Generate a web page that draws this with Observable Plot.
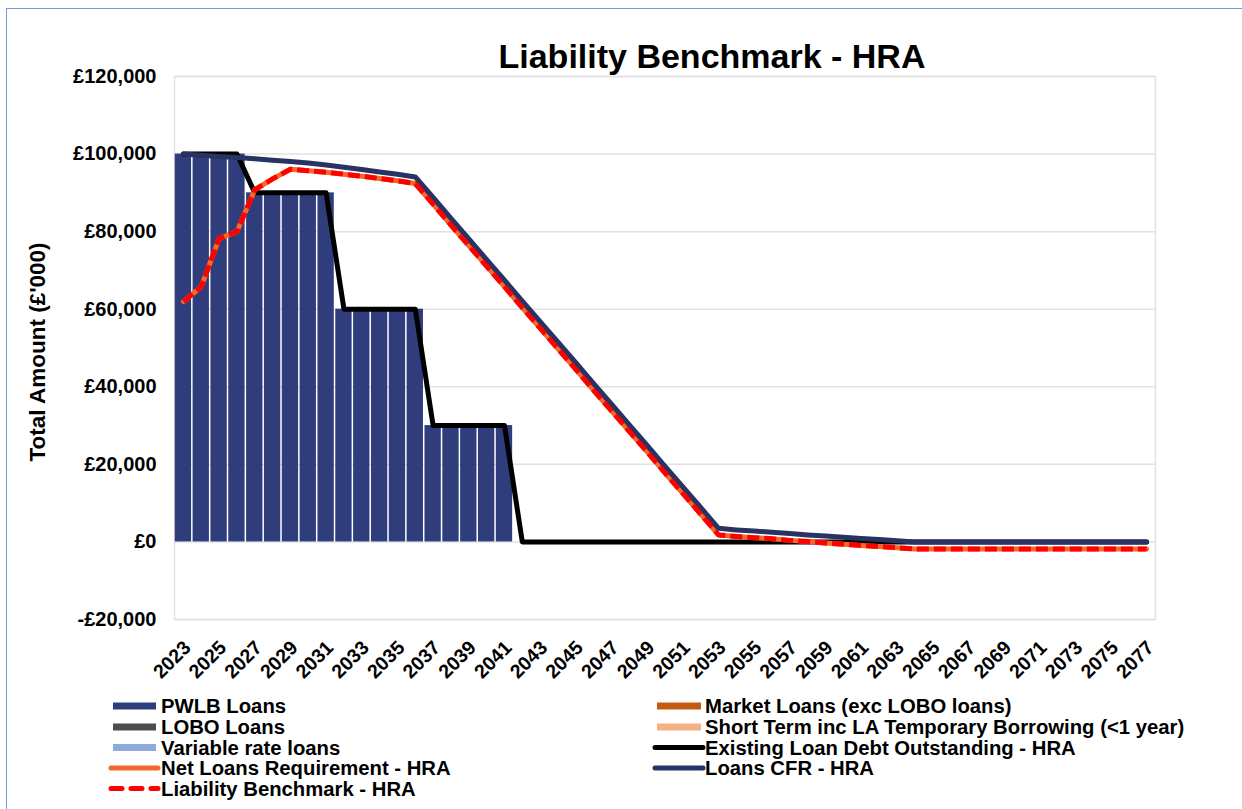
<!DOCTYPE html>
<html><head><meta charset="utf-8">
<script src="https://cdn.jsdelivr.net/npm/d3@7"></script>
<script src="https://cdn.jsdelivr.net/npm/@observablehq/plot@0.6"></script>
<style>
body{margin:0;background:#fff;}
#wrap{position:relative;width:1242px;height:809px;overflow:hidden;font-family:"Liberation Sans",Arial,sans-serif;}
#wrap svg{position:absolute;left:0;top:0;}
#border{position:absolute;left:6px;top:8px;width:1400px;height:1000px;border-top:1px solid #6E9AD6;border-left:1px solid #6E9AD6;}
</style>
</head><body>
<div id="wrap"><div id="border"></div></div>
<script>
const years = [2023,2024,2025,2026,2027,2028,2029,2030,2031,2032,2033,2034,2035,2036,2037,2038,2039,2040,2041,2042,
  2043,2044,2045,2046,2047,2048,2049,2050,2051,2052,2053,2054,2055,2056,2057,2058,2059,2060,2061,2062,
  2063,2064,2065,2066,2067,2068,2069,2070,2071,2072,2073,2074,2075,2076,2077];
const xTickYears = [2023,2025,2027,2029,2031,2033,2035,2037,2039,2041,2043,2045,2047,2049,2051,2053,2055,2057,2059,
  2061,2063,2065,2067,2069,2071,2073,2075,2077];
const yTicks = [-20000,0,20000,40000,60000,80000,100000,120000];

const pwlbLoans = [100000,100000,100000,100000,90000,90000,90000,90000,90000,60000,60000,60000,60000,60000,30000,30000,30000,30000,30000,0,
  0,0,0,0,0,0,0,0,0,0,0,0,0,0,0,0,0,0,0,0,
  0,0,0,0,0,0,0,0,0,0,0,0,0,0,0];
const marketLoans = [0,0,0,0,0,0,0,0,0,0,0,0,0,0,0,0,0,0,0,0,0,0,0,0,0,0,0,0,0,0,0,0,0,0,0,0,0,0,0,0,0,0,0,0,0,0,0,0,0,0,0,0,0,0,0];
const loboLoans = [0,0,0,0,0,0,0,0,0,0,0,0,0,0,0,0,0,0,0,0,0,0,0,0,0,0,0,0,0,0,0,0,0,0,0,0,0,0,0,0,0,0,0,0,0,0,0,0,0,0,0,0,0,0,0];
const shortTerm = [0,0,0,0,0,0,0,0,0,0,0,0,0,0,0,0,0,0,0,0,0,0,0,0,0,0,0,0,0,0,0,0,0,0,0,0,0,0,0,0,0,0,0,0,0,0,0,0,0,0,0,0,0,0,0];
const variableRate = [0,0,0,0,0,0,0,0,0,0,0,0,0,0,0,0,0,0,0,0,0,0,0,0,0,0,0,0,0,0,0,0,0,0,0,0,0,0,0,0,0,0,0,0,0,0,0,0,0,0,0,0,0,0,0];

const existingDebt = [100000,100000,100000,100000,90000,90000,90000,90000,90000,60000,60000,60000,60000,60000,30000,30000,30000,30000,30000,0,
  0,0,0,0,0,0,0,0,0,0,0,0,0,0,0,0,0,0,0,0,
  0,0,0,0,0,0,0,0,0,0,0,0,0,0,0];
const loansCFR = [100000,99700,99400,99100,98800,98400,98100,97700,97200,96600,96000,95400,94800,94100,
  88800,83400,78100,72800,67500,62100,56800,51500,46200,40800,35500,30200,24900,19500,14200,8900,3500,
  3100,2800,2500,2200,1800,1500,1200,900,600,300,0,
  0,0,0,0,0,0,0,0,0,0,0,0,0];
const netLoansReq = [62000,65800,78200,80000,90800,93600,96100,95700,95300,94800,94300,93700,93100,92400,
  87100,81700,76400,71100,65800,60400,55100,49800,44500,39100,33800,28500,23200,17800,12500,7200,1800,
  1400,1100,800,400,100,-300,-600,-900,-1200,-1500,-1800,
  -1800,-1800,-1800,-1800,-1800,-1800,-1800,-1800,-1800,-1800,-1800,-1800,-1800];
const liabilityBenchmark = [62000,65800,78200,80000,90800,93600,96100,95700,95300,94800,94300,93700,93100,92400,
  87100,81700,76400,71100,65800,60400,55100,49800,44500,39100,33800,28500,23200,17800,12500,7200,1800,
  1400,1100,800,400,100,-300,-600,-900,-1200,-1500,-1800,
  -1800,-1800,-1800,-1800,-1800,-1800,-1800,-1800,-1800,-1800,-1800,-1800,-1800];

const barSeries = [
  {name: "PWLB Loans", values: pwlbLoans, color: "#2F3D7C"},
  {name: "Market Loans (exc LOBO loans)", values: marketLoans, color: "#C55A11"},
  {name: "LOBO Loans", values: loboLoans, color: "#4D4D4D"},
  {name: "Short Term inc LA Temporary Borrowing (<1 year)", values: shortTerm, color: "#F4B183"},
  {name: "Variable rate loans", values: variableRate, color: "#8FAADC"}
];
const lineSeries = [
  {name: "Existing Loan Debt Outstanding - HRA", values: existingDebt, color: "#000000", dash: null},
  {name: "Net Loans Requirement - HRA", values: netLoansReq, color: "#F06A2B", dash: null},
  {name: "Loans CFR - HRA", values: loansCFR, color: "#283263", dash: null},
  {name: "Liability Benchmark - HRA", values: liabilityBenchmark, color: "#FF0000", dash: "12,5"}
];

const barRows = barSeries.flatMap(s => years.map((yr, i) => ({year: yr, series: s.name, value: s.values[i]})));
const fmt = v => (v < 0 ? "-" : "") + "£" + d3.format(",")(Math.abs(v));
const FONT = "'Liberation Sans', Arial, sans-serif";

const lineMarks = lineSeries.map(s => Plot.line(years.map((yr, i) => ({year: yr, value: s.values[i]})), {
  x: "year", y: "value", stroke: s.color, strokeWidth: 5,
  strokeDasharray: s.dash || undefined,
  strokeLinecap: s.dash ? "butt" : "round", strokeLinejoin: "round"
}));

const chart = Plot.plot({
  width: 1242, height: 809,
  marginLeft: 174, marginRight: 87, marginTop: 76, marginBottom: 190,
  style: {fontFamily: FONT, background: "transparent", color: "#000", overflow: "visible"},
  x: {type: "band", domain: years, padding: 0},
  y: {domain: [-20000, 120000]},
  color: {domain: barSeries.map(s => s.name), range: barSeries.map(s => s.color)},
  marks: [
    Plot.gridY(yTicks, {stroke: "#E2E2E2", strokeOpacity: 1, strokeWidth: 1.5}),
    Plot.frame({stroke: "#E2E2E2", strokeWidth: 1.5}),
    Plot.axisY(yTicks, {tickSize: 0, tickPadding: 18, tickFormat: fmt, fontSize: 20, fontWeight: "bold", label: null}),
    Plot.axisX(xTickYears, {tickSize: 0, tickRotate: -45, tickPadding: 16, dx: 4, dy: 9, fontSize: 19.5, fontWeight: "bold", label: null, tickFormat: d => String(d)}),
    Plot.barY(barRows, {x: "year", y: "value", fill: "series", order: barSeries.map(s => s.name), insetLeft: 0.75, insetRight: 0.75}),
    ...lineMarks
  ]
});
const wrap = document.getElementById("wrap");
wrap.appendChild(chart);

// overlay: title, y label, legend
const ov = d3.select(wrap).append("svg").attr("width", 1242).attr("height", 809)
  .style("font-family", FONT).style("pointer-events", "none");
ov.append("text").attr("x", 712).attr("y", 68).attr("text-anchor", "middle")
  .attr("font-size", 34).attr("font-weight", "bold").text("Liability Benchmark - HRA");
ov.append("text").attr("transform", "translate(45,352) rotate(-90)").attr("text-anchor", "middle")
  .attr("font-size", 22.5).attr("font-weight", "bold").text("Total Amount (£'000)");

const legendLeft = [barSeries[0], barSeries[2], barSeries[4], lineSeries[1], lineSeries[3]];
const legendRight = [barSeries[1], barSeries[3], lineSeries[0], lineSeries[2]];
const rowY = [706, 727, 747.5, 768, 788.5];
function drawLegend(items, x0, x1, tx) {
  items.forEach((s, i) => {
    const cy = rowY[i];
    const g = ov.append("g");
    if (lineSeries.includes(s)) {
      g.append("line").attr("x1", x0).attr("x2", x1).attr("y1", cy).attr("y2", cy)
        .attr("stroke", s.color).attr("stroke-width", 5)
        .attr("stroke-linecap", "round")
        .attr("stroke-dasharray", s.dash ? "11,9" : null);
    } else {
      g.append("rect").attr("x", x0 + 2).attr("y", cy - 3.5).attr("width", x1 - x0 - 4).attr("height", 7).attr("fill", s.color);
    }
    g.append("text").attr("x", tx).attr("y", cy + 7).attr("font-size", 20.3).attr("font-weight", "bold").text(s.name);
  });
}
drawLegend(legendLeft, 111, 158, 161);
drawLegend(legendRight, 655, 703, 705);
</script>
</body></html>
